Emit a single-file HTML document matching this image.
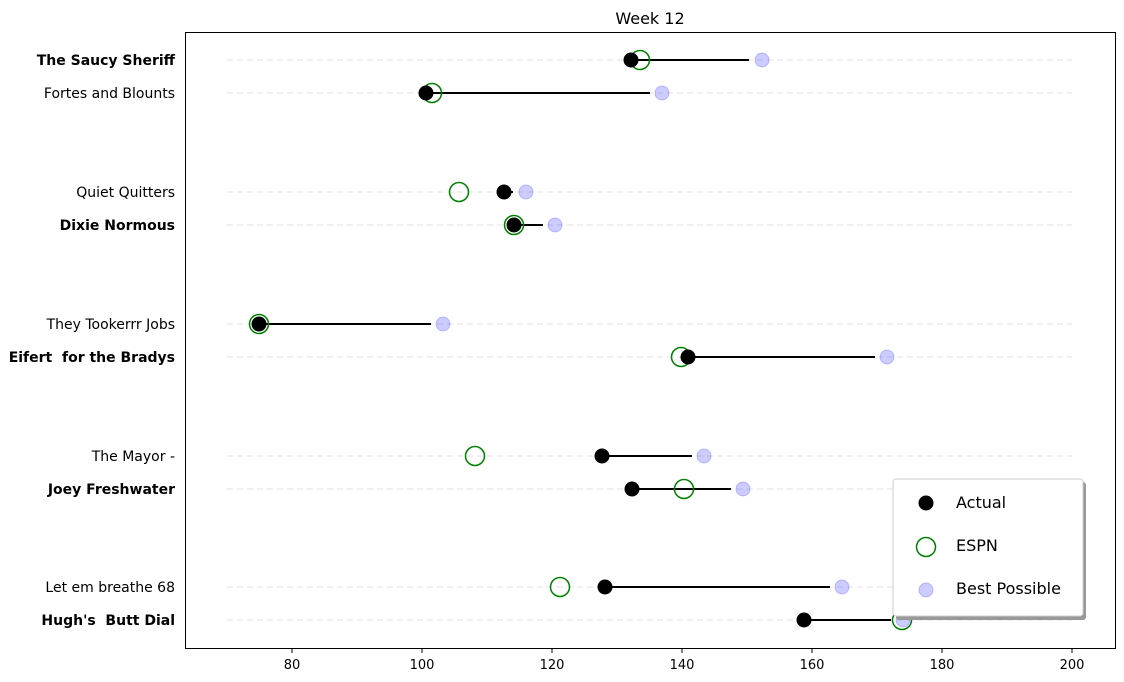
<!DOCTYPE html><html><head><style>body{margin:0;background:#fff}svg{display:block;font-family:"DejaVu Sans","Liberation Sans",sans-serif}</style></head><body>
<svg width="1124" height="682" xmlns="http://www.w3.org/2000/svg">
<rect width="1124" height="682" fill="#fff"/>
<text x="650" y="24" font-size="16" text-anchor="middle">Week 12</text>
<g stroke="#e0e0e0" stroke-dasharray="6,4" stroke-width="1">
<line x1="227" x2="1072" y1="60" y2="60"/><line x1="227" x2="1072" y1="93" y2="93"/>
<line x1="227" x2="1072" y1="192" y2="192"/><line x1="227" x2="1072" y1="225" y2="225"/>
<line x1="227" x2="1072" y1="324" y2="324"/><line x1="227" x2="1072" y1="357" y2="357"/>
<line x1="227" x2="1072" y1="456" y2="456"/><line x1="227" x2="1072" y1="489" y2="489"/>
<line x1="227" x2="1072" y1="587" y2="587"/><line x1="227" x2="1072" y1="620" y2="620"/>
</g>
<g stroke="#000" stroke-width="2">
<line x1="631" x2="749" y1="60" y2="60"/><line x1="426" x2="650" y1="93" y2="93"/>
<line x1="504" x2="513" y1="192" y2="192"/><line x1="514" x2="543" y1="225" y2="225"/>
<line x1="259" x2="431" y1="324" y2="324"/><line x1="688" x2="875" y1="357" y2="357"/>
<line x1="602" x2="692" y1="456" y2="456"/><line x1="632" x2="731" y1="489" y2="489"/>
<line x1="605" x2="830" y1="587" y2="587"/><line x1="804" x2="891" y1="620" y2="620"/>
</g>
<g fill="#0000ff" fill-opacity="0.2" stroke="#0000ff" stroke-opacity="0.2">
<circle cx="762" cy="60" r="7"/><circle cx="662" cy="93" r="7"/><circle cx="526" cy="192" r="7"/><circle cx="555" cy="225" r="7"/><circle cx="443" cy="324" r="7"/><circle cx="887" cy="357" r="7"/><circle cx="704" cy="456" r="7"/><circle cx="743" cy="489" r="7"/><circle cx="842" cy="587" r="7"/><circle cx="903" cy="620" r="7"/>
</g>
<g fill="none" stroke="#008000" stroke-width="1.5">
<circle cx="640" cy="60" r="9.5"/><circle cx="432" cy="93" r="9.5"/><circle cx="459" cy="192" r="9.5"/><circle cx="514" cy="225" r="9.5"/><circle cx="259" cy="324" r="9.5"/><circle cx="681" cy="357" r="9.5"/><circle cx="475" cy="456" r="9.5"/><circle cx="684" cy="489" r="9.5"/><circle cx="560" cy="587" r="9.5"/><circle cx="902" cy="620" r="9.5"/>
</g>
<g fill="#000">
<circle cx="631" cy="60" r="7.5"/><circle cx="426" cy="93" r="7.5"/><circle cx="504" cy="192" r="7.5"/><circle cx="514" cy="225" r="7.5"/><circle cx="259" cy="324" r="7.5"/><circle cx="688" cy="357" r="7.5"/><circle cx="602" cy="456" r="7.5"/><circle cx="632" cy="489" r="7.5"/><circle cx="605" cy="587" r="7.5"/><circle cx="804" cy="620" r="7.5"/>
</g>
<rect x="185.5" y="32.5" width="930" height="616" fill="none" stroke="#000"/>
<g font-size="14" text-anchor="end">
<text x="175" y="65" font-weight="bold">The Saucy Sheriff</text>
<text x="175" y="98">Fortes and Blounts</text>
<text x="175" y="197">Quiet Quitters</text>
<text x="175" y="230" font-weight="bold">Dixie Normous</text>
<text x="175" y="329">They Tookerrr Jobs</text>
<text x="175" y="362" font-weight="bold" xml:space="preserve">Eifert  for the Bradys</text>
<text x="175" y="461">The Mayor -</text>
<text x="175" y="494" font-weight="bold">Joey Freshwater</text>
<text x="175" y="592">Let em breathe 68</text>
<text x="175" y="625" font-weight="bold" xml:space="preserve">Hugh's  Butt Dial</text>
</g>
<g stroke="#000"><line x1="292" x2="292" y1="649" y2="653"/><line x1="422" x2="422" y1="649" y2="653"/><line x1="552" x2="552" y1="649" y2="653"/><line x1="682" x2="682" y1="649" y2="653"/><line x1="812" x2="812" y1="649" y2="653"/><line x1="942" x2="942" y1="649" y2="653"/><line x1="1072" x2="1072" y1="649" y2="653"/></g>
<g font-size="13" text-anchor="middle">
<text x="292" y="669">80</text><text x="422" y="669">100</text><text x="552" y="669">120</text><text x="682" y="669">140</text><text x="812" y="669">160</text><text x="942" y="669">180</text><text x="1072" y="669">200</text>
</g>
<rect x="896" y="482" width="190" height="138" rx="3" fill="#999"/>
<rect x="893" y="479" width="190" height="137" rx="3" fill="#fff" stroke="#ccc"/>
<circle cx="926" cy="503" r="7.5" fill="#000"/>
<circle cx="926" cy="547" r="9.5" fill="none" stroke="#008000" stroke-width="1.5"/>
<circle cx="926" cy="590" r="7" fill="#0000ff" fill-opacity="0.2" stroke="#0000ff" stroke-opacity="0.2"/>
<g font-size="16"><text x="956" y="508">Actual</text><text x="956" y="551">ESPN</text><text x="956" y="594">Best Possible</text></g>
</svg>
</body></html>
